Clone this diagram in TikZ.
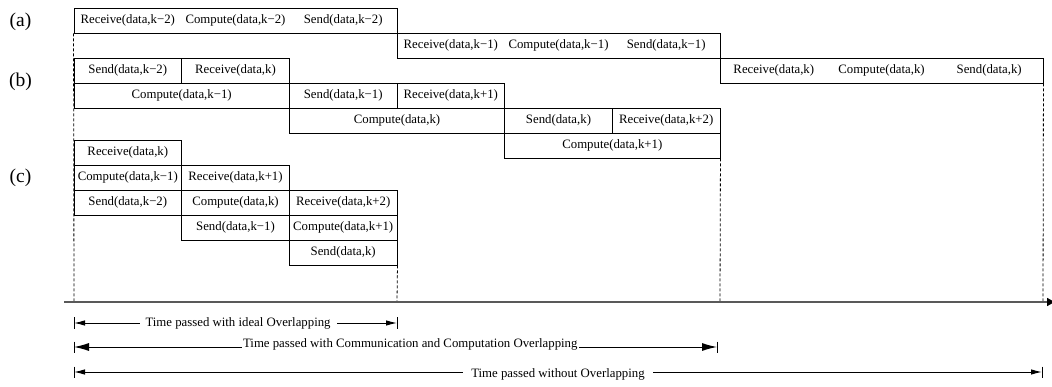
\documentclass[tikz,border=0pt]{standalone}
\usepackage{fontspec}
\setmainfont{Liberation Serif}
\usetikzlibrary{arrows.meta}
\newcommand{\boxfont}{\fontsize{12.8}{15}\selectfont}
\newcommand{\tagfont}{\fontsize{19.5}{22}\selectfont}
\tikzset{
  cell/.style={draw, line width=0.9pt, minimum height=25pt, minimum width=#1, inner sep=0pt, font=\boxfont},
  cell/.default=107.67pt,
  txt/.style={inner sep=0pt, font=\boxfont},
  tag/.style={inner sep=0pt, font=\tagfont},
  guide/.style={line width=0.8pt, dash pattern=on 3pt off 2pt},
  axis/.style={line width=1.6pt, draw=black!65, -{Latex[length=9pt,width=9pt,color=black]}},
  dimsmall/.style={line width=1pt, {Latex[length=11pt,width=5.5pt]}-{Latex[length=11pt,width=5.5pt]}},
  dimbig/.style={line width=1pt, {Latex[length=15pt,width=8pt]}-{Latex[length=15pt,width=8pt]}},
  tick/.style={line width=0.9pt},
  dimlabel/.style={fill=white, inner ysep=1pt, font=\boxfont}
}
\begin{document}
\begin{tikzpicture}[x=1pt,y=-1pt]
\useasboundingbox (0,0) rectangle (1052,387);

% tags
\node[tag] (ta) at (20.5,21.5) {(a)};
\node[tag] (tb) at (20.5,82) {(b)};
\node[tag] (tc) at (20.5,177.5) {(c)};

% guide coordinates on the time axis
\coordinate (g0) at (74,302);
\coordinate (g1) at (397,302);
\coordinate (g2) at (720,302);
\coordinate (g3) at (1043,302);

% (a) boxes
\node[cell=323pt] (a1) at (235.5,20.5) {};
\node[txt] (a1r) at (127.8,20.5) {Receive(data,k−2)};
\node[txt] (a1c) at (235.5,20.5) {Compute(data,k−2)};
\node[txt] (a1s) at (343.2,20.5) {Send(data,k−2)};
\node[cell=323pt] (a2) at (558.5,45.5) {};
\node[txt] (a2r) at (450.8,45.5) {Receive(data,k−1)};
\node[txt] (a2c) at (558.5,45.5) {Compute(data,k−1)};
\node[txt] (a2s) at (666.2,45.5) {Send(data,k−1)};
\node[cell=323pt] (a3) at (881.5,70.5) {};
\node[txt] (a3r) at (773.8,70.5) {Receive(data,k)};
\node[txt] (a3c) at (881.5,70.5) {Compute(data,k)};
\node[txt] (a3s) at (989.2,70.5) {Send(data,k)};

% (b) boxes
\node[cell] (b1) at (127.8,70.5) {Send(data,k−2)};
\node[cell] (b2) at (235.5,70.5) {Receive(data,k)};
\node[cell=215.33pt] (b3) at (181.67,95.5) {Compute(data,k−1)};
\node[cell] (b4) at (343.2,95.5) {Send(data,k−1)};
\node[cell] (b5) at (450.8,95.5) {Receive(data,k+1)};
\node[cell=215.33pt] (b6) at (397,120.5) {Compute(data,k)};
\node[cell] (b7) at (558.5,120.5) {Send(data,k)};
\node[cell] (b8) at (666.2,120.5) {Receive(data,k+2)};
\node[cell=215.33pt] (b9) at (612.33,145.5) {Compute(data,k+1)};

% (c) boxes
\node[cell] (c1) at (127.8,152.5) {Receive(data,k)};
\node[cell] (c2) at (127.8,177.5) {Compute(data,k−1)};
\node[cell] (c3) at (235.5,177.5) {Receive(data,k+1)};
\node[cell] (c4) at (127.8,202.5) {Send(data,k−2)};
\node[cell] (c5) at (235.5,202.5) {Compute(data,k)};
\node[cell] (c6) at (343.2,202.5) {Receive(data,k+2)};
\node[cell] (c7) at (235.5,227.5) {Send(data,k−1)};
\node[cell] (c8) at (343.2,227.5) {Compute(data,k+1)};
\node[cell] (c9) at (343.2,252.5) {Send(data,k)};

% dashed guides
\draw[guide] (a1.south west) -- (g0);
\draw[guide] (c9.south east) -- (g1);
\draw[guide] (b9.south east) -- (g2);
\draw[guide] (a3.south east) -- (g3);

% time axis
\coordinate (ax0) at (64,302);
\coordinate (ax1) at (1056,302);
\draw[axis] (ax0) -- (ax1);

% dimension arrows
\coordinate (d1a) at (74,323);
\coordinate (d1b) at (397,323);
\coordinate (d2a) at (74,347);
\coordinate (d2b) at (717,347);
\coordinate (d3a) at (74,372);
\coordinate (d3b) at (1042,372);

\draw[dimsmall] (d1a) -- node[dimlabel, inner xsep=6pt, pos=0.508] (l1) {Time passed with ideal Overlapping} (d1b);
\draw[dimbig] (d2a) -- node[dimlabel, inner xsep=1pt, pos=0.523, yshift=3pt] (l2) {Time passed with Communication and Computation Overlapping} (d2b);
\draw[dimsmall] (d3a) -- node[dimlabel, inner xsep=8pt, pos=0.5, yshift=-2pt] (l3) {Time passed without Overlapping} (d3b);

\foreach \p in {d1a,d1b,d2a,d2b,d3a,d3b}
  \draw[tick] (\p) ++(0,-5.5) -- ++(0,11);
\end{tikzpicture}
\end{document}
